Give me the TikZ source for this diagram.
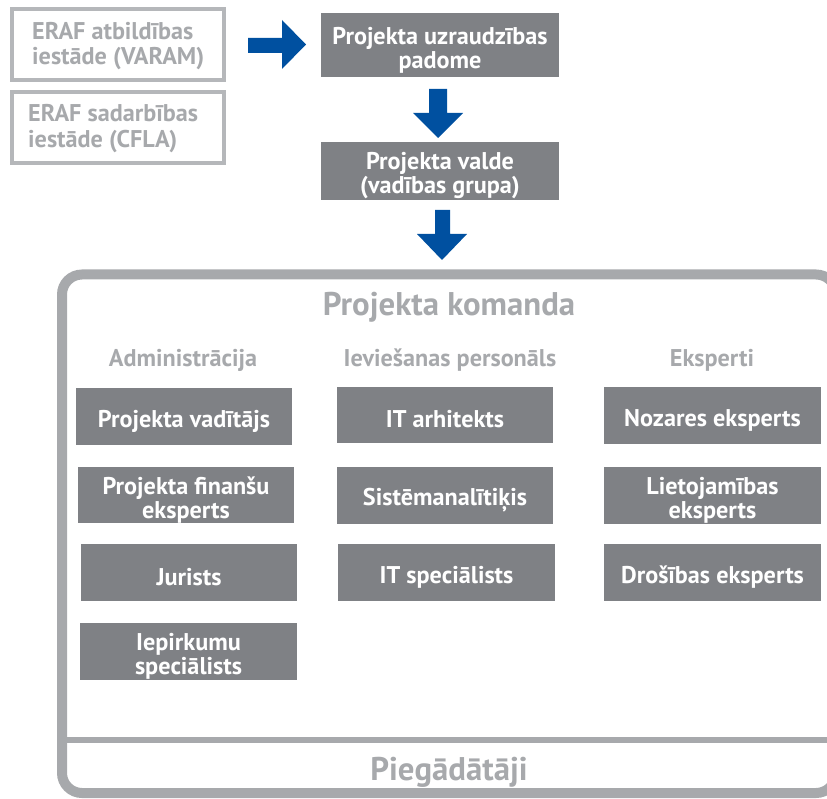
\documentclass[tikz,border=0pt]{standalone}
\usepackage{fontspec}
\setmainfont{PT Sans}
\definecolor{boxgray}{HTML}{7F8185}
\definecolor{txtgray}{HTML}{A7A9AC}
\definecolor{linegray}{HTML}{A7A9AC}
\definecolor{outgray}{HTML}{B5B7BA}
\definecolor{arrowblue}{HTML}{0050A0}
\newcommand{\boxstrut}{\rule[-2pt]{0pt}{29pt}}
\begin{document}
\begin{tikzpicture}[x=1pt,y=-1pt,
  darkbox/.style={fill=boxgray,draw=none,text=white,align=center,font=\bfseries\fontsize{24.2}{24}\selectfont,inner sep=0pt},
  outbox/.style={draw=outgray,line width=4pt,inner sep=0pt},
  outtext/.style={text=txtgray,font=\bfseries\fontsize{24.2}{25.5}\selectfont,align=left,inner sep=0pt,anchor=west},
  head/.style={text=txtgray,font=\bfseries\fontsize{24.2}{25}\selectfont,inner sep=0pt},
  bighead/.style={text=txtgray,font=\bfseries\fontsize{32.8}{34}\selectfont,inner sep=0pt},
  blockarrow/.style={fill=arrowblue,draw=none}]
\useasboundingbox (0,0) rectangle (827,799);
% outer frame
\draw[linegray,line width=10pt,rounded corners=20pt] (62,274.5) rectangle (836,793);
\draw[linegray,line width=6pt] (67,740) -- (832,740);
% left outline boxes
\node[outbox,minimum width=212pt,minimum height=71pt] (varam) at (118,45) {};
\node[outbox,minimum width=212pt,minimum height=71pt] (cfla) at (118,127.5) {};
\node[outtext] (varamt) at (32,46) {ERAF atbildības\\iestāde (VARAM)};
\node[outtext] (cflat) at (28,128.5) {ERAF sadarbības\\iestāde (CFLA)};
% top chain
\node[darkbox,minimum width=238pt,minimum height=64pt] (padome) at (440,45) {\boxstrut Projekta uzraudzības\\padome};
\node[darkbox,minimum width=238pt,minimum height=58pt] (valde) at (440,171) {\boxstrut Projekta valde\\(vadības grupa)};
% blue arrows
\fill[blockarrow] (248,38) -- (282,38) -- (282,20) -- (306,44.5) -- (282,69) -- (282,53) -- (248,53) -- cycle;
\fill[blockarrow] (429,89) -- (447,89) -- (447,113) -- (463,113) -- (438,138) -- (413,113) -- (429,113) -- cycle;
\fill[blockarrow] (435,210) -- (450,210) -- (450,234) -- (467,234) -- (442,260) -- (417,234) -- (435,234) -- cycle;
% headings
\node[bighead] (komanda) at (449,307) {Projekta komanda};
\node[head] (admin) at (183,360) {Administrācija};
\node[head] (iev) at (450,360) {Ieviešanas personāls};
\node[head] (eksp) at (712,360) {Eksperti};
\node[bighead] (pieg) at (449,772) {Piegādātāji};
% column 1
\node[darkbox,minimum width=216pt,minimum height=57pt] (vad) at (184,416.5) {\boxstrut Projekta vadītājs};
\node[darkbox,minimum width=216pt,minimum height=56pt] (fin) at (186,495) {\boxstrut Projekta finanšu\\eksperts};
\node[darkbox,minimum width=216pt,minimum height=57pt] (jur) at (189,572.5) {\boxstrut Jurists};
\node[darkbox,minimum width=217pt,minimum height=57pt] (iep) at (188.5,651.5) {\boxstrut Iepirkumu\\speciālists};
% column 2
\node[darkbox,minimum width=216pt,minimum height=56pt] (arh) at (445,415) {\boxstrut IT arhitekts};
\node[darkbox,minimum width=216pt,minimum height=57pt] (sis) at (445,495.5) {\boxstrut Sistēmanalītiķis};
\node[darkbox,minimum width=217pt,minimum height=57pt] (spec) at (446.5,572.5) {\boxstrut IT speciālists};
% column 3
\node[darkbox,minimum width=217pt,minimum height=57pt] (noz) at (712.5,415.5) {\boxstrut Nozares eksperts};
\node[darkbox,minimum width=217pt,minimum height=57pt] (liet) at (712.5,495.5) {\boxstrut Lietojamības\\eksperts};
\node[darkbox,minimum width=217pt,minimum height=57pt] (dro) at (712.5,572.5) {\boxstrut Drošības eksperts};
\end{tikzpicture}
\end{document}
